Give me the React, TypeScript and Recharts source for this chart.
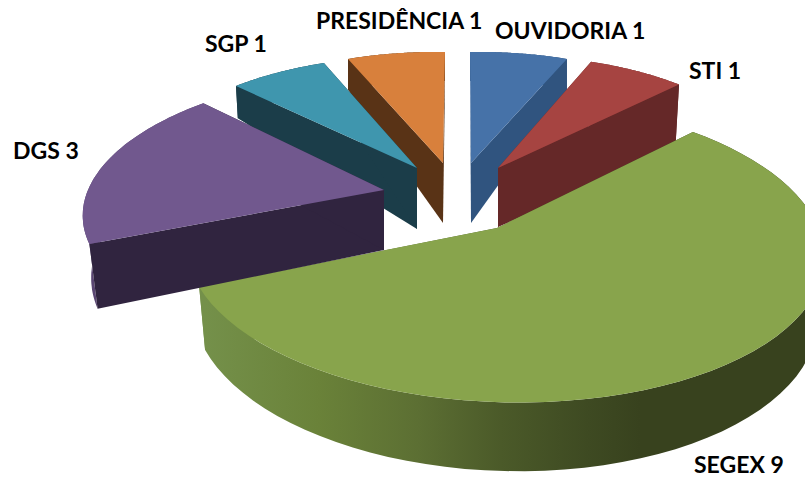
import { Pie, PieChart } from 'recharts';

// draw order matters here: walls of the back slices sit behind DGS and SEGEX
const categories = ['SGP', 'PRESIDÊNCIA', 'OUVIDORIA', 'STI', 'SEGEX', 'DGS'];
const values = [1, 1, 1, 1, 9, 3];
const topColors = ['#3f96ae', '#d8803c', '#4672a8', '#a64441', '#88a44c', '#71588e'];
const wallColors = ['#1b3d49', '#593316', '#30547f', '#652828', 'url(#segexWall)', '#30243f'];
const rimColors = ['#1b3d49', '#593316', '#30547f', '#652828', 'url(#segexWall)', '#5a4672'];

// per slice projection of the tilted 3D pie: explosion offset, rim matrix, perspective, wall depth
const projections = [
  { dx: -53, dy: -32, a: 265, b: 9, c: -4, d: 112, e: 0, f: 0, depth: 61, kx: 0.99, ky: 1.35 },
  { dx: -27, dy: -37, a: 253, b: 2, c: -4, d: 111, e: 0, f: 0, depth: 60, kx: 1, ky: 1.28 },
  { dx: 1, dy: -37, a: 253, b: -1, c: 4, d: 111, e: 0, f: 0, depth: 60, kx: 1, ky: 1.28 },
  { dx: 28, dy: -32, a: 265, b: -9, c: 5, d: 113, e: 0, f: 0, depth: 59, kx: 0.98, ky: 0.95 },
  { dx: 27, dy: 28, a: 315, b: -12.5, c: 0, d: 148.3, e: 0.15, f: -0.02, depth: 60, kx: 0.98, ky: 1.05 },
  { dx: -86, dy: -10, a: 296, b: 17, c: 0, d: 134, e: 0.13, f: 0, depth: 60, kx: 0.972, ky: 1.09 },
];

const labelPositions = [
  { x: 205, y: 52 },
  { x: 316, y: 29 },
  { x: 495, y: 39 },
  { x: 689, y: 79 },
  { x: 694, y: 473 },
  { x: 13, y: 159 },
];

const chartData = categories.map((name, i) => ({ name, value: values[i], fill: topColors[i] }));

// PRESIDÊNCIA has to be painted before SGP, so it gets its own pass underneath
const BACK_INDEX = 1;

const toPath = (pts: number[][]) => 'M' + pts.map((p) => `${p[0].toFixed(1)},${p[1].toFixed(1)}`).join('L') + 'Z';

function Slice3D(props: any) {
  const { cx, cy, startAngle, endAngle, index } = props;
  const p = projections[index];
  const ax = cx + p.dx;
  const ay = cy + p.dy;

  const rim = (deg: number) => {
    const t = (deg * Math.PI) / 180;
    const w = 1 + p.e * Math.sin(t) + p.f * Math.cos(t);
    return [(p.a * Math.cos(t) + p.b * Math.sin(t)) / w, -(p.c * Math.cos(t) + p.d * Math.sin(t)) / w];
  };

  const steps = 64;
  const rel: number[][] = [];
  for (let i = 0; i <= steps; i++) rel.push(rim(startAngle + ((endAngle - startAngle) * i) / steps));

  const top = rel.map((r) => [ax + r[0], ay + r[1]]);
  const bottom = rel.map((r) => [ax + r[0] * p.kx, ay + p.depth + r[1] * p.ky]);
  const apex = [ax, ay];
  const apexBottom = [ax, ay + p.depth];
  const wall = wallColors[index];

  return (
    <g>
      <defs>
        <linearGradient id="segexWall" gradientUnits="userSpaceOnUse" x1="205" y1="0" x2="640" y2="0">
          <stop offset="0%" stopColor="#74904a" />
          <stop offset="26%" stopColor="#6a8239" />
          <stop offset="49%" stopColor="#5c6f33" />
          <stop offset="68%" stopColor="#4b5a29" />
          <stop offset="88%" stopColor="#3e4a22" />
          <stop offset="100%" stopColor="#38421e" />
        </linearGradient>
      </defs>
      <path d={toPath([...top, ...[...bottom].reverse()])} fill={rimColors[index]} />
      <path d={toPath([apex, top[0], bottom[0], apexBottom])} fill={wall} />
      <path d={toPath([apex, top[steps], bottom[steps], apexBottom])} fill={wall} />
      <path d={toPath([apex, ...top])} fill={topColors[index]} />
    </g>
  );
}

const BackSlice = (props: any) => (props.index === BACK_INDEX ? <Slice3D {...props} /> : <g />);
const FrontSlice = (props: any) => (props.index === BACK_INDEX ? <g /> : <Slice3D {...props} />);

function SliceLabel(props: any) {
  const { index } = props;
  const pos = labelPositions[index];
  return (
    <text x={pos.x} y={pos.y} fontFamily="Lato, sans-serif" fontWeight={700} fontSize={23} fill="#000">
      {`${categories[index]} ${values[index]}`}
    </text>
  );
}

export default function App() {
  return (
    <div style={{ position: 'absolute', left: 0, top: 0, width: 805, height: 479, overflow: 'hidden', background: '#fff' }}>
      <PieChart width={805} height={479} margin={{ top: 0, right: 0, bottom: 0, left: 0 }}>
        <Pie
          data={chartData}
          dataKey="value"
          nameKey="name"
          cx={470}
          cy={200}
          outerRadius={100}
          startAngle={135}
          endAngle={-225}
          stroke="none"
          shape={BackSlice}
          isAnimationActive={false}
        />
        <Pie
          data={chartData}
          dataKey="value"
          nameKey="name"
          cx={470}
          cy={200}
          outerRadius={100}
          startAngle={135}
          endAngle={-225}
          stroke="none"
          shape={FrontSlice}
          label={SliceLabel}
          labelLine={false}
          isAnimationActive={false}
        />
      </PieChart>
    </div>
  );
}
